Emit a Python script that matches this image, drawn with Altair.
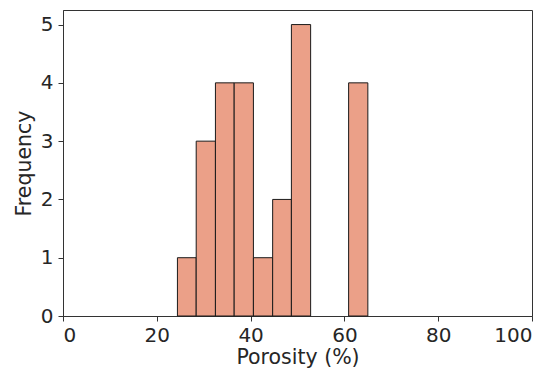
import altair as alt
import pandas as pd

bin_start = [24.4, 28.4, 32.5, 36.5, 40.6, 44.7, 48.7, 52.8, 56.9, 60.9]
bin_end = [28.4, 32.5, 36.5, 40.6, 44.7, 48.7, 52.8, 56.9, 60.9, 65.0]
counts = [1, 3, 4, 4, 1, 2, 5, 0, 0, 4]
x_ticks = [0, 20, 40, 60, 80, 100]
y_ticks = [0, 1, 2, 3, 4, 5]

df = pd.DataFrame({"start": bin_start, "end": bin_end, "count": counts})
df = df[df["count"] > 0]

chart = alt.Chart(df).mark_bar(
    color="#EBA088", stroke="#1a1a1a", strokeWidth=1, opacity=1
).encode(
    x=alt.X("start:Q", scale=alt.Scale(domain=[0, 100], nice=False, zero=False),
            axis=alt.Axis(values=x_ticks, title="Porosity (%)", format="d")),
    x2="end:Q",
    y=alt.Y("count:Q", scale=alt.Scale(domain=[0, 5.25], nice=False),
            axis=alt.Axis(values=y_ticks, title="Frequency", format="d")),
    y2=alt.datum(0),
).properties(
    width=469, height=306,
    autosize=alt.AutoSizeParams(type="none"),
    padding={"left": 55, "top": 2, "right": 13, "bottom": 52},
).configure_view(
    stroke="#333333", strokeWidth=1
).configure_axis(
    grid=False,
    domainColor="#333333",
    tickColor="#333333",
    tickSize=5,
    labelFont="DejaVu Sans",
    titleFont="DejaVu Sans",
    labelFontSize=20,
    titleFontSize=20.5,
    labelColor="#262626",
    titleColor="#262626",
    titleFontWeight="normal",
).configure_axisX(
    labelPadding=4,
    titlePadding=2,
).configure_axisY(
    labelPadding=5,
    titlePadding=6,
)

chart.save("out.html", embed_options={"renderer": "svg", "actions": False})
